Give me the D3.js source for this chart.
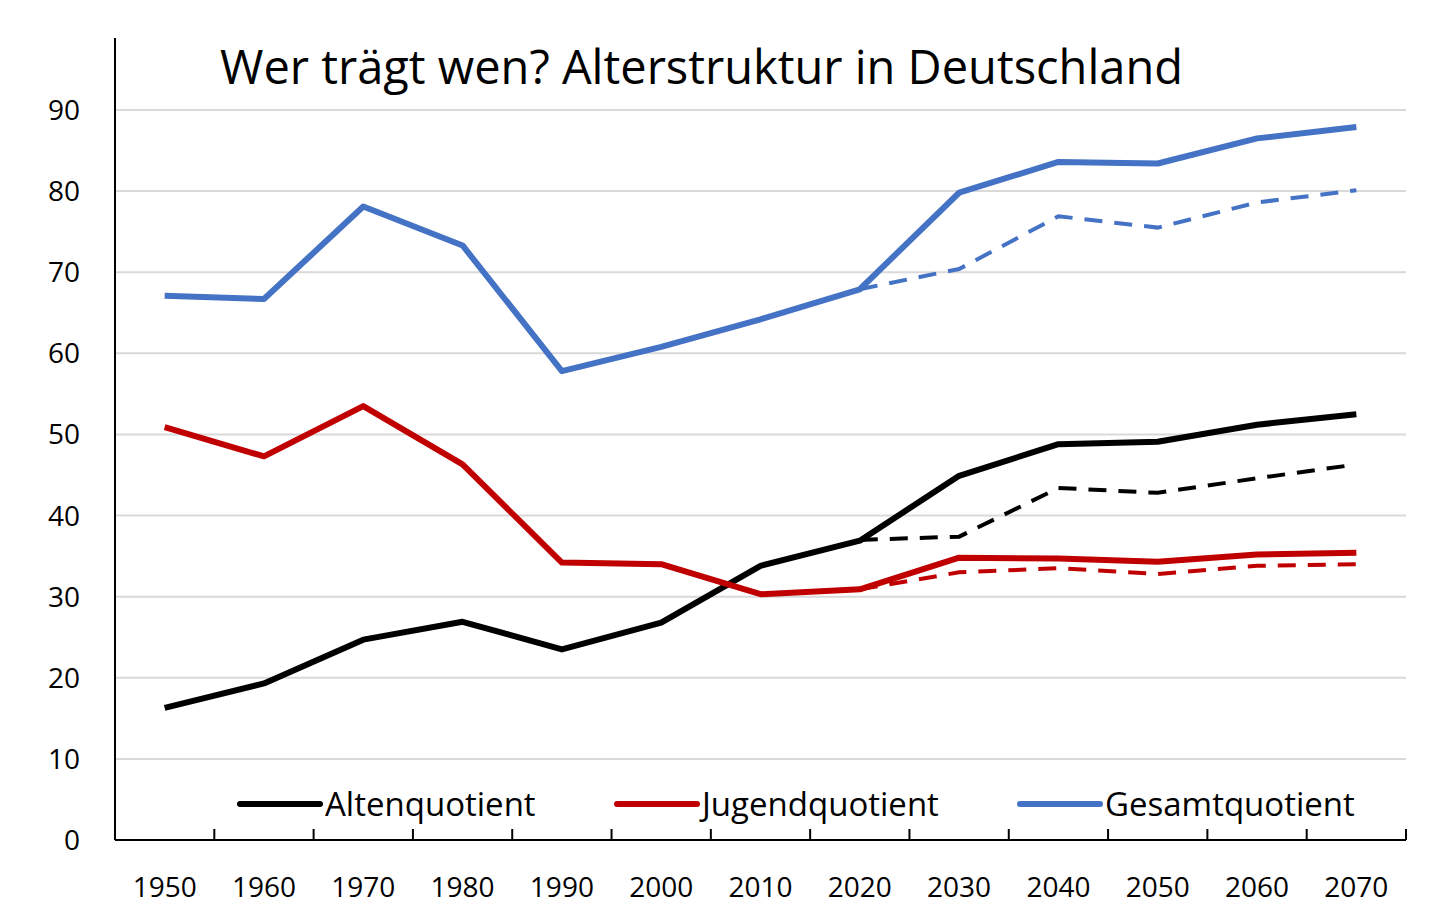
<!DOCTYPE html><html><head><meta charset="utf-8">
<script src="https://cdn.jsdelivr.net/npm/d3@7"></script>
<style>body{margin:0;background:#fff}text{font-family:"Open Sans",sans-serif}</style></head><body>
<svg id="c" width="1456" height="917"></svg>
<script>
const years=[1950,1960,1970,1980,1990,2000,2010,2020,2030,2040,2050,2060,2070];
const alten=[16.3,19.3,24.7,26.9,23.5,26.8,33.8,36.9,44.9,48.8,49.1,51.2,52.5];
const jugend=[50.9,47.3,53.5,46.3,34.2,34.0,30.3,30.9,34.8,34.7,34.3,35.2,35.4];
const gesamt=[67.1,66.7,78.1,73.3,57.8,60.8,64.2,67.9,79.8,83.6,83.4,86.5,87.9];
const altenAlt=[37.0,37.4,43.4,42.8,44.6,46.3];
const jugendAlt=[30.9,33.0,33.5,32.8,33.8,34.0];
const gesamtAlt=[67.9,70.4,76.9,75.5,78.6,80.1];
const altYears=years.slice(7);
const yTicks=[0,10,20,30,40,50,60,70,80,90];
const names=["Altenquotient","Jugendquotient","Gesamtquotient"];
const colors=["#000000","#c00000","#4472c4"];

const svg=d3.select("#c");
const x=d3.scaleBand().domain(years).range([115,1406]);
const y=d3.scaleLinear().domain([0,90]).range([840,110]);
const cx=d=>x(d)+x.bandwidth()/2;
svg.selectAll("line.g").data(yTicks.slice(1)).join("line").attr("x1",115).attr("x2",1406)
 .attr("y1",d=>y(d)).attr("y2",d=>y(d)).attr("stroke","#d9d9d9").attr("stroke-width",2);
svg.selectAll("text.yt").data(yTicks).join("text").attr("x",80).attr("y",d=>y(d)+10).attr("text-anchor","end")
 .attr("font-size",28).text(d=>d);
svg.append("line").attr("x1",115).attr("x2",115).attr("y1",38).attr("y2",840).attr("stroke","#000").attr("stroke-width",2);
svg.append("line").attr("x1",115).attr("x2",1406).attr("y1",840).attr("y2",840).attr("stroke","#000").attr("stroke-width",2);
const edges=years.map(d=>x(d)).concat([1406]);
svg.selectAll("line.tk").data(edges).join("line").attr("x1",d=>d).attr("x2",d=>d).attr("y1",840).attr("y2",829).attr("stroke","#000").attr("stroke-width",2);
svg.selectAll("text.xt").data(years).join("text").attr("x",cx).attr("y",897).attr("text-anchor","middle").attr("font-size",28).text(d=>d);
const line=d3.line().x(d=>cx(d[0])).y(d=>y(d[1]));
[[alten,altenAlt],[jugend,jugendAlt],[gesamt,gesamtAlt]].forEach(([m,a],i)=>{
 svg.append("path").attr("d",line(altYears.map((yy,j)=>[yy,a[j]]))).attr("fill","none").attr("stroke",colors[i]).attr("stroke-width",4).attr("stroke-dasharray","18,12");
 svg.append("path").attr("d",line(years.map((yy,j)=>[yy,m[j]]))).attr("fill","none").attr("stroke",colors[i]).attr("stroke-width",6).attr("stroke-linejoin","round");
});
svg.append("text").attr("x",220).attr("y",84).attr("font-size",47).text("Wer trägt wen? Alterstruktur in Deutschland");
const lx=[240,617,1020];
names.forEach((n,i)=>{
 svg.append("line").attr("x1",lx[i]).attr("x2",lx[i]+80).attr("y1",804).attr("y2",804).attr("stroke",colors[i]).attr("stroke-width",6).attr("stroke-linecap","round");
 svg.append("text").attr("x",lx[i]+85).attr("y",816).attr("font-size",33).text(n);
});
</script></body></html>
